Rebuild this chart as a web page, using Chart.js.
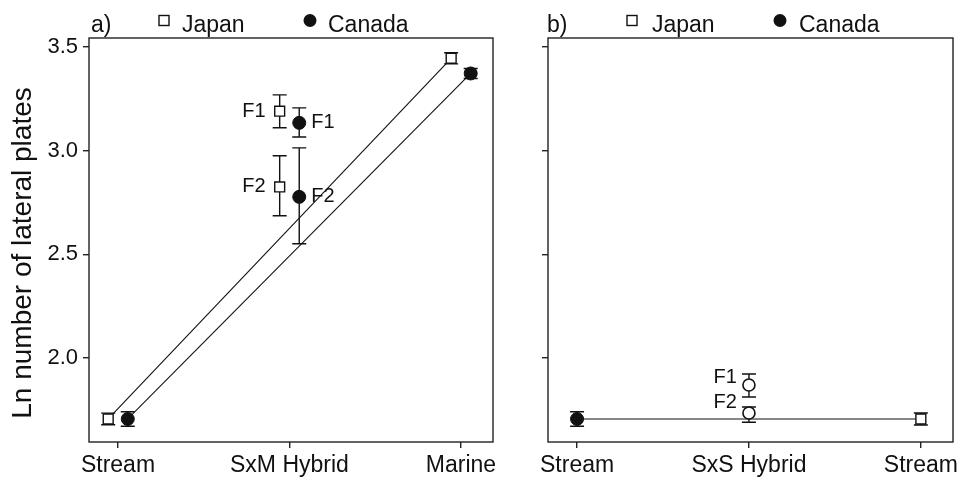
<!DOCTYPE html>
<html>
<head>
<meta charset="utf-8">
<script src="https://cdn.jsdelivr.net/npm/chart.js@4.4.1/dist/chart.umd.min.js"></script>
<style>
  html, body { margin: 0; padding: 0; background: #fff; }
  #wrap { position: relative; width: 960px; height: 481px; overflow: hidden; }
  .panel { position: absolute; top: 0; height: 481px; }
  #pa { left: 0; width: 495px; }
  #pb { left: 495px; width: 465px; }
</style>
</head>
<body>
<div id="wrap">
  <div class="panel" id="pa"><canvas id="chartA"></canvas></div>
  <div class="panel" id="pb"><canvas id="chartB"></canvas></div>
</div>
<script>
// ---- data -------------------------------------------------------------
const categoriesA = ['Stream', 'SxM Hybrid', 'Marine'];
const categoriesB = ['Stream', 'SxS Hybrid', 'Stream'];
const yTickValues = [2.0, 2.5, 3.0, 3.5];
const yTitle = 'Ln number of lateral plates';

// Panel a: Stream parent, F1 hybrid, F2 hybrid, Marine parent
const groupLabelsA = ['', 'F1', 'F2', ''];
const groupCatA = [0, 1, 1, 2];
const japanMeanA = [1.706, 3.190, 2.825, 3.445];
const japanLowA = [1.678, 3.110, 2.686, 3.418];
const japanHighA = [1.734, 3.269, 2.975, 3.472];
const canadaMeanA = [1.706, 3.134, 2.777, 3.372];
const canadaLowA = [1.671, 3.066, 2.551, 3.348];
const canadaHighA = [1.741, 3.206, 3.013, 3.396];

// Panel b: Canadian stream parent, SxS hybrids, Japanese stream parent
const canadaCatB = [0];
const canadaMeanB = [1.706];
const canadaLowB = [1.671];
const canadaHighB = [1.741];
const japanCatB = [2];
const japanMeanB = [1.706];
const japanLowB = [1.677];
const japanHighB = [1.735];
const hybridLabelsB = ['F1', 'F2'];
const hybridCatB = [1, 1];
const hybridMeanB = [1.870, 1.735];
const hybridLowB = [1.812, 1.690];
const hybridHighB = [1.923, 1.764];

// ---- styling ----------------------------------------------------------
const FONT = "'Liberation Sans', Arial, Helvetica, sans-serif";
const INK = '#111';
const SHIFT = 0.057; // side-by-side shift of the two populations in panel a

function pts(cats, vals, dx) {
  return cats.map((c, i) => ({ x: c + dx, y: vals[i] }));
}

// vertical error bars with caps, drawn under the markers
const errorBarPlugin = {
  id: 'errorBars',
  beforeDatasetsDraw(chart) {
    const ctx = chart.ctx;
    const ys = chart.scales.y;
    chart.data.datasets.forEach((ds, i) => {
      if (!ds.errLow) return;
      const meta = chart.getDatasetMeta(i);
      meta.data.forEach((pt, j) => {
        const x = pt.x;
        const y1 = ys.getPixelForValue(ds.errLow[j]);
        const y2 = ys.getPixelForValue(ds.errHigh[j]);
        ctx.save();
        ctx.strokeStyle = INK;
        ctx.lineWidth = 1.4;
        ctx.beginPath();
        ctx.moveTo(x, y1); ctx.lineTo(x, y2);
        ctx.moveTo(x - 7, y1); ctx.lineTo(x + 7, y1);
        ctx.moveTo(x - 7, y2); ctx.lineTo(x + 7, y2);
        ctx.stroke();
        ctx.restore();
      });
    });
  }
};

// box around the plotting area
const framePlugin = {
  id: 'frame',
  afterDatasetsDraw(chart) {
    const { ctx, chartArea: a } = chart;
    ctx.save();
    ctx.strokeStyle = '#222';
    ctx.lineWidth = 1.4;
    ctx.strokeRect(a.left, a.top, a.right - a.left, a.bottom - a.top);
    ctx.restore();
  }
};

// F1 / F2 tags next to hybrid means
const pointTagPlugin = {
  id: 'pointTags',
  afterDatasetsDraw(chart) {
    const ctx = chart.ctx;
    chart.data.datasets.forEach((ds, i) => {
      if (!ds.tags) return;
      const meta = chart.getDatasetMeta(i);
      meta.data.forEach((pt, j) => {
        const t = ds.tags[j];
        if (!t) return;
        ctx.save();
        ctx.font = '20px ' + FONT;
        ctx.fillStyle = INK;
        ctx.textAlign = ds.tagAlign;
        ctx.textBaseline = 'middle';
        const dy = Array.isArray(ds.tagDy) ? ds.tagDy[j] : ds.tagDy;
        ctx.fillText(t, pt.x + ds.tagDx, pt.y + dy);
        ctx.restore();
      });
    });
  }
};

// panel tag plus population key above the plot, and the vertical axis title
const panelKeyPlugin = {
  id: 'panelKey',
  afterDraw(chart, args, opts) {
    const ctx = chart.ctx;
    const L = chart.chartArea.left;
    const base = 32, mid = 20.5;
    ctx.save();
    ctx.font = '23px ' + FONT;
    ctx.fillStyle = INK;
    ctx.textBaseline = 'alphabetic';
    ctx.textAlign = 'left';
    ctx.fillText(opts.tag, L + opts.tagX, base);
    ctx.strokeStyle = INK;
    ctx.lineWidth = 1.4;
    ctx.strokeRect(L + opts.sqX - 5, mid - 5, 10, 10);
    ctx.fillText('Japan', L + opts.japanX, base);
    ctx.beginPath();
    ctx.arc(L + opts.dotX, mid, 6.5, 0, Math.PI * 2);
    ctx.fill();
    ctx.fillText('Canada', L + opts.canadaX, base);
    if (opts.title) {
      ctx.translate(opts.titleX, opts.titleY);
      ctx.rotate(-Math.PI / 2);
      ctx.font = '28px ' + FONT;
      ctx.textAlign = 'center';
      ctx.textBaseline = 'middle';
      ctx.fillText(opts.title, 0, 0);
    }
    ctx.restore();
  }
};

function axes(cats, withYLabels, yWidth) {
  return {
    x: {
      type: 'linear',
      min: -0.169,
      max: 2.187,
      afterBuildTicks(s) { s.ticks = [0, 1, 2].map(v => ({ value: v })); },
      afterFit(s) { s.height = 39; s.paddingLeft = 0; s.paddingRight = 0; },
      border: { display: false },
      grid: { drawOnChartArea: false, drawTicks: true, tickLength: 6, color: '#222', tickColor: '#222', lineWidth: 1.4 },
      ticks: {
        padding: 4,
        color: INK,
        font: { family: FONT, size: 23 },
        maxRotation: 0,
        autoSkip: false,
        callback: v => cats[Math.round(v)]
      }
    },
    y: {
      type: 'linear',
      min: 1.595,
      max: 3.543,
      afterBuildTicks(s) { s.ticks = yTickValues.map(v => ({ value: v })); },
      afterFit(s) { s.width = yWidth; s.paddingTop = 0; s.paddingBottom = 0; },
      border: { display: false },
      grid: { drawOnChartArea: false, drawTicks: true, tickLength: 6, color: '#222', tickColor: '#222', lineWidth: 1.4 },
      ticks: {
        padding: 5,
        color: INK,
        font: { family: FONT, size: 22 },
        callback: v => withYLabels ? Number(v).toFixed(1) : ''
      }
    }
  };
}

const squareStyle = { pointStyle: 'rect', pointRadius: 7, pointBackgroundColor: '#fff', pointBorderColor: INK, pointBorderWidth: 1.4 };
const dotStyle = { pointStyle: 'circle', pointRadius: 6.5, pointBackgroundColor: INK, pointBorderColor: INK, pointBorderWidth: 1 };
const ringStyle = { pointStyle: 'circle', pointRadius: 6, pointBackgroundColor: '#fff', pointBorderColor: INK, pointBorderWidth: 1.6 };

// ---- panel a ----------------------------------------------------------
new Chart(document.getElementById('chartA'), {
  type: 'scatter',
  data: {
    datasets: [
      Object.assign({
        label: 'Japan',
        data: pts(groupCatA, japanMeanA, -SHIFT),
        errLow: japanLowA, errHigh: japanHighA,
        tags: groupLabelsA, tagAlign: 'right', tagDx: -14, tagDy: 0,
        order: 0
      }, squareStyle),
      Object.assign({
        label: 'Canada',
        data: pts(groupCatA, canadaMeanA, SHIFT),
        errLow: canadaLowA, errHigh: canadaHighA,
        tags: groupLabelsA, tagAlign: 'left', tagDx: 12, tagDy: 0,
        order: 0
      }, dotStyle),
      {
        type: 'line',
        label: 'Japan parents',
        data: [{ x: groupCatA[0] - SHIFT, y: japanMeanA[0] }, { x: groupCatA[3] - SHIFT, y: japanMeanA[3] }],
        borderColor: INK, borderWidth: 1.1, pointRadius: 0, fill: false, order: 2
      },
      {
        type: 'line',
        label: 'Canada parents',
        data: [{ x: groupCatA[0] + SHIFT, y: canadaMeanA[0] }, { x: groupCatA[3] + SHIFT, y: canadaMeanA[3] }],
        borderColor: INK, borderWidth: 1.1, pointRadius: 0, fill: false, order: 2
      }
    ]
  },
  options: {
    responsive: true,
    maintainAspectRatio: false,
    animation: false,
    layout: { autoPadding: false, padding: { top: 38, right: 2, left: 0, bottom: 0 } },
    scales: axes(categoriesA, true, 89),
    plugins: {
      legend: { display: false },
      tooltip: { enabled: false },
      panelKey: { tag: 'a)', tagX: 2, sqX: 75, japanX: 93, dotX: 221, canadaX: 239,
                  title: yTitle, titleX: 23, titleY: 253 }
    }
  },
  plugins: [errorBarPlugin, framePlugin, pointTagPlugin, panelKeyPlugin]
});

// ---- panel b ----------------------------------------------------------
new Chart(document.getElementById('chartB'), {
  type: 'scatter',
  data: {
    datasets: [
      Object.assign({
        label: 'Japan',
        data: pts(japanCatB, japanMeanB, 0),
        errLow: japanLowB, errHigh: japanHighB,
        order: 0
      }, squareStyle),
      Object.assign({
        label: 'Canada',
        data: pts(canadaCatB, canadaMeanB, 0),
        errLow: canadaLowB, errHigh: canadaHighB,
        order: 0
      }, dotStyle),
      Object.assign({
        label: 'SxS hybrids',
        data: pts(hybridCatB, hybridMeanB, 0),
        errLow: hybridLowB, errHigh: hybridHighB,
        tags: hybridLabelsB, tagAlign: 'right', tagDx: -12, tagDy: [-7, -10],
        order: 0
      }, ringStyle),
      {
        type: 'line',
        label: 'Stream parents',
        data: [{ x: canadaCatB[0], y: canadaMeanB[0] }, { x: japanCatB[0], y: japanMeanB[0] }],
        borderColor: INK, borderWidth: 1.2, pointRadius: 0, fill: false, order: 2
      }
    ]
  },
  options: {
    responsive: true,
    maintainAspectRatio: false,
    animation: false,
    layout: { autoPadding: false, padding: { top: 38, right: 7, left: 0, bottom: 0 } },
    scales: axes(categoriesB, false, 53),
    plugins: {
      legend: { display: false },
      tooltip: { enabled: false },
      panelKey: { tag: 'b)', tagX: -1, sqX: 84, japanX: 104, dotX: 232, canadaX: 251 }
    }
  },
  plugins: [errorBarPlugin, framePlugin, pointTagPlugin, panelKeyPlugin]
});
</script>
</body>
</html>
